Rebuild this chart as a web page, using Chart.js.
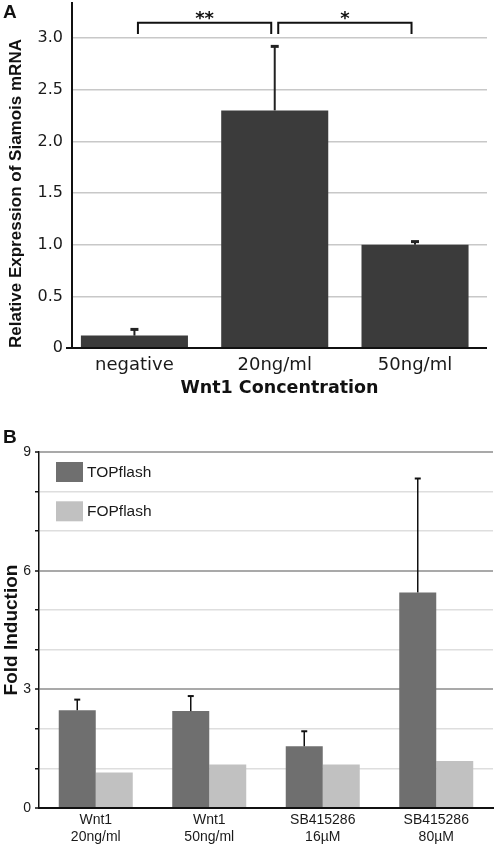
<!DOCTYPE html>
<html>
<head>
<meta charset="utf-8">
<script src="https://cdn.jsdelivr.net/npm/chart.js@4.4.1/dist/chart.umd.min.js"></script>
<style>
  html, body { margin: 0; padding: 0; background: #fff; }
  body { width: 496px; height: 845px; position: relative; overflow: hidden; }
  .panel { position: absolute; left: 0; width: 496px; }
  #panelA { top: 0; height: 400px; }
  #panelB { top: 400px; height: 445px; }
  .letter { position: absolute; left: 3px; font: bold 19px "Liberation Sans", Arial, sans-serif; line-height: 19px; color: #111; }
</style>
</head>
<body>
<div class="panel" id="panelA"><canvas id="chartA" width="496" height="400"></canvas></div>
<div class="panel" id="panelB"><canvas id="chartB" width="496" height="445"></canvas></div>
<div class="letter" style="top:2px">A</div>
<div class="letter" style="top:427px">B</div>

<script>
// Panel A - Siamois expression
const concentrations = ['negative', '20ng/ml', '50ng/ml'];
const siamois = [0.12, 2.30, 1.00];
const siamoisErr = [0.06, 0.62, 0.03];
const sigPairs = [[0, 1], [1, 2]];
const sigMarks = ['**', '*'];

// Panel B - TOPflash / FOPflash
const treatments = [['Wnt1', '20ng/ml'], ['Wnt1', '50ng/ml'], ['SB415286', '16µM'], ['SB415286', '80µM']];
const topflash = [2.47, 2.45, 1.56, 5.45];
const topflashErr = [0.27, 0.38, 0.38, 2.88];
const fopflash = [0.90, 1.10, 1.10, 1.19];

const errorBarPlugin = {
  id: 'errorBars',
  afterDatasetsDraw(chart, args, opts) {
    const { ctx } = chart;
    const yScale = chart.scales.y;
    chart.data.datasets.forEach((ds, di) => {
      if (!ds.errors) return;
      const meta = chart.getDatasetMeta(di);
      meta.data.forEach((bar, i) => {
        const err = ds.errors[i];
        if (!err) return;
        const raw = ds.data[i];
        const val = typeof raw === 'object' ? raw.y : raw;
        const yTop = yScale.getPixelForValue(val + err);
        ctx.save();
        ctx.strokeStyle = opts.color;
        ctx.lineWidth = opts.lineWidth;
        ctx.beginPath();
        ctx.moveTo(bar.x, bar.y);
        ctx.lineTo(bar.x, yTop);
        ctx.stroke();
        ctx.lineWidth = opts.capThickness;
        ctx.beginPath();
        ctx.moveTo(bar.x - opts.capWidth / 2, yTop);
        ctx.lineTo(bar.x + opts.capWidth / 2, yTop);
        ctx.stroke();
        ctx.restore();
      });
    });
  }
};

const bracketPlugin = {
  id: 'sigBrackets',
  afterDraw(chart, args, opts) {
    const { ctx } = chart;
    const { x, y } = chart.scales;
    ctx.save();
    ctx.strokeStyle = '#111';
    ctx.fillStyle = '#111';
    ctx.lineWidth = 2;
    ctx.font = 'bold 18px "DejaVu Sans"';
    ctx.textAlign = 'center';
    ctx.textBaseline = 'alphabetic';
    sigPairs.forEach(([a, b], k) => {
      const x1 = x.getPixelForValue(a) + opts.gap;
      const x2 = x.getPixelForValue(b) - opts.gap;
      const yTop = y.getPixelForValue(opts.level);
      const yLeg = y.getPixelForValue(opts.legLevel);
      ctx.beginPath();
      ctx.moveTo(x1, yLeg);
      ctx.lineTo(x1, yTop);
      ctx.lineTo(x2, yTop);
      ctx.lineTo(x2, yLeg);
      ctx.stroke();
      ctx.fillText(sigMarks[k], (x1 + x2) / 2, yTop + 1);
    });
    ctx.restore();
  }
};

const insideLegend = {
  id: 'insideLegend',
  afterDraw(chart) {
    const { ctx, chartArea } = chart;
    ctx.save();
    ctx.font = '15.5px "Liberation Sans"';
    ctx.textBaseline = 'middle';
    ctx.textAlign = 'left';
    chart.data.datasets.forEach((ds, i) => {
      const bx = chartArea.left + 17;
      const by = chartArea.top + 10 + i * 39.3;
      ctx.fillStyle = ds.backgroundColor;
      ctx.fillRect(bx, by, 27, 20);
      ctx.fillStyle = '#1a1a1a';
      ctx.fillText(ds.label, bx + 31, by + 10.5);
    });
    ctx.restore();
  }
};

new Chart(document.getElementById('chartA'), {
  type: 'bar',
  data: {
    datasets: [{
      label: 'Siamois',
      data: siamois.map((v, i) => ({ x: i, y: v })),
      errors: siamoisErr,
      backgroundColor: '#3b3b3b',
      barPercentage: 0.763,
      categoryPercentage: 1
    }]
  },
  options: {
    responsive: false,
    animation: false,
    layout: { padding: { top: 3, right: 9, left: 0, bottom: 0 } },
    plugins: {
      legend: { display: false },
      tooltip: { enabled: false },
      errorBars: { color: '#222', lineWidth: 2, capWidth: 8, capThickness: 3 },
      sigBrackets: { level: 3.15, legLevel: 3.04, gap: 3.5 }
    },
    scales: {
      x: {
        type: 'linear',
        offset: false,
        min: -0.445,
        max: 2.513,
        grid: { display: false, offset: false, drawTicks: false },
        border: { display: false },
        ticks: {
          stepSize: 1,
          includeBounds: false,
          autoSkip: false,
          maxRotation: 0,
          padding: 7,
          color: '#1a1a1a',
          font: { family: 'DejaVu Sans', size: 18 },
          callback: v => concentrations[Math.round(v)]
        },
        title: {
          display: true,
          text: 'Wnt1 Concentration',
          color: '#111',
          font: { family: 'DejaVu Sans', size: 17.5, weight: 'bold' },
          padding: { top: 0, bottom: 1 }
        },
        afterFit: s => { s.height = 52; s.paddingLeft = 0; s.paddingRight = 0; }
      },
      y: {
        min: 0,
        max: 3.34,
        ticks: {
          stepSize: 0.5,
          includeBounds: false,
          padding: 3,
          color: '#1a1a1a',
          font: { family: 'DejaVu Sans', size: 16 },
          callback: v => v === 0 ? '0' : v.toFixed(1)
        },
        grid: {
          color: c => c.tick.value === 0 ? '#111' : '#c8c8c8',
          lineWidth: c => c.tick.value === 0 ? 2 : 1.5,
          drawTicks: true,
          tickLength: 6,
          tickColor: c => c.tick.value === 0 ? '#111' : 'rgba(0,0,0,0)'
        },
        border: { color: '#111', width: 2 },
        title: {
          display: true,
          text: 'Relative Expression of Siamois mRNA',
          align: 'start',
          color: '#111',
          font: { family: 'Liberation Sans', size: 17, weight: 'bold' },
          padding: { top: 6, bottom: 0 }
        },
        afterFit: s => { s.width = 72; s.paddingTop = 0; s.paddingBottom = 0; }
      }
    }
  },
  plugins: [errorBarPlugin, bracketPlugin]
});

new Chart(document.getElementById('chartB'), {
  type: 'bar',
  data: {
    labels: treatments,
    datasets: [
      { label: 'TOPflash', data: topflash, errors: topflashErr, backgroundColor: '#6f6f6f' },
      { label: 'FOPflash', data: fopflash, backgroundColor: '#c1c1c1' }
    ]
  },
  options: {
    responsive: false,
    animation: false,
    datasets: { bar: { categoryPercentage: 0.652, barPercentage: 1 } },
    layout: { padding: { top: 52, right: 3, left: 0, bottom: 0 } },
    plugins: {
      legend: { display: false },
      tooltip: { enabled: false },
      errorBars: { color: '#111', lineWidth: 1.5, capWidth: 6, capThickness: 2 }
    },
    scales: {
      x: {
        grid: { display: false, drawTicks: false },
        border: { color: '#111', width: 2 },
        ticks: {
          autoSkip: false,
          maxRotation: 0,
          padding: 4,
          color: '#1a1a1a',
          font: { family: 'Liberation Sans', size: 14, lineHeight: 1.2 }
        },
        afterFit: s => { s.height = 37; s.paddingLeft = 0; s.paddingRight = 0; }
      },
      y: {
        min: 0,
        max: 9,
        ticks: {
          stepSize: 1,
          padding: 4,
          color: '#1a1a1a',
          font: { family: 'Liberation Sans', size: 14 },
          callback: v => v % 3 === 0 ? String(v) : ''
        },
        grid: {
          color: c => c.tick.value === 0 ? '#111' : (c.tick.value % 3 === 0 ? '#a9a9a9' : '#dedede'),
          lineWidth: c => c.tick.value % 3 === 0 ? 2 : 1.5,
          tickLength: 4,
          tickColor: '#111',
          tickWidth: 1.5
        },
        border: { color: '#111', width: 1.5 },
        title: {
          display: true,
          text: 'Fold Induction',
          color: '#111',
          font: { family: 'Liberation Sans', size: 19, weight: 'bold' },
          padding: { top: 0, bottom: 0 }
        },
        afterFit: s => { s.width = 39; s.paddingTop = 0; s.paddingBottom = 0; }
      }
    }
  },
  plugins: [errorBarPlugin, insideLegend]
});
</script>
</body>
</html>
